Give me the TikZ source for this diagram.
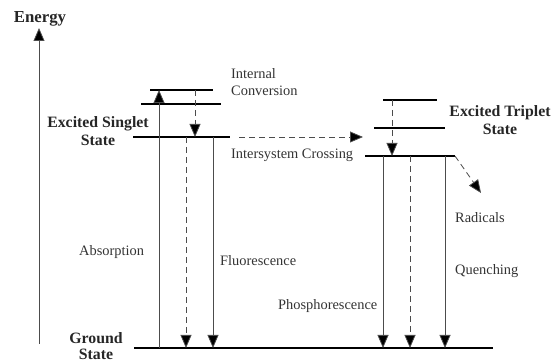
\documentclass[tikz,border=0pt]{standalone}
\usepackage{fontspec}
\setmainfont{Liberation Serif}
\usetikzlibrary{arrows.meta}

\tikzset{
	level/.style={line width=1.6pt},
	trans/.style={line width=0.8pt, draw=black!70, -{Triangle[length=13pt,width=11pt,fill=black]}},
	nonrad/.style={trans, dash pattern=on 6pt off 4pt},
	lbl/.style={anchor=west, inner sep=0pt, text=black!80, font=\fontsize{14.4}{17}\selectfont, align=left},
	statelbl/.style={align=center, inner sep=0pt, text=black!85, font=\fontsize{15.8}{17.5}\bfseries\selectfont}
}

\begin{document}
\begin{tikzpicture}[x=1pt,y=-1pt]
	\useasboundingbox (0,0) rectangle (552,363);
	
	% energy axis
	\coordinate (e0) at (39,344);
	\coordinate (e1) at (39,28);
	\draw[trans] (e0) -- (e1);
	\node[statelbl, font=\fontsize{16.8}{19}\bfseries\selectfont] (energy) at (40,19) {Energy};
	
	% levels
	\coordinate (g0) at (134,348); \coordinate (g1) at (493,348);
	\coordinate (s0) at (133,137); \coordinate (s1) at (230,137);
	\coordinate (sa0) at (141,104); \coordinate (sa1) at (221,104);
	\coordinate (sb0) at (150,90); \coordinate (sb1) at (213,90);
	\coordinate (t0) at (365,156); \coordinate (t1) at (455,156);
	\coordinate (ta0) at (374,128); \coordinate (ta1) at (445,128);
	\coordinate (tb0) at (383,100); \coordinate (tb1) at (437,100);
	\foreach \a/\b in {g0/g1, s0/s1, sa0/sa1, sb0/sb1, t0/t1, ta0/ta1, tb0/tb1}
	{
		\draw[level] (\a) -- (\b);
	}
	
	% transitions
	\draw[trans] (159,348) -- (159,90);
	\draw[nonrad] (195,90) -- (195,137);
	\draw[nonrad] (186,137) -- (186,348);
	\draw[trans] (213,137) -- (213,348);
	\draw[nonrad] (239,137) -- (363,137);
	\draw[nonrad] (392,100) -- (392,156);
	\draw[trans] (383,156) -- (383,348);
	\draw[nonrad] (410,156) -- (410,348);
	\draw[trans] (445,156) -- (445,348);
	\coordinate (rad) at (481,193);
	\draw[nonrad] (t1) -- (rad);
	
	% labels
	\node[statelbl] (singlet) at (98,131) {Excited Singlet\\State};
	\node[statelbl] (triplet) at (500,120) {Excited Triplet\\State};
	\node[statelbl, font=\fontsize{15.8}{15.5}\bfseries\selectfont] (ground) at (96,346) {Ground\\State};
	\node[lbl] (ic) at (231,82) {Internal\\Conversion};
	\node[lbl] (isc) at (231,155) {Intersystem Crossing};
	\node[lbl] (abs) at (79,252) {Absorption};
	\node[lbl] (fluo) at (220,261) {Fluorescence};
	\node[lbl] (phos) at (278,306) {Phosphorescence};
	\node[lbl] (radl) at (455,218) {Radicals};
	\node[lbl] (quench) at (455,271) {Quenching};
\end{tikzpicture}
\end{document}
